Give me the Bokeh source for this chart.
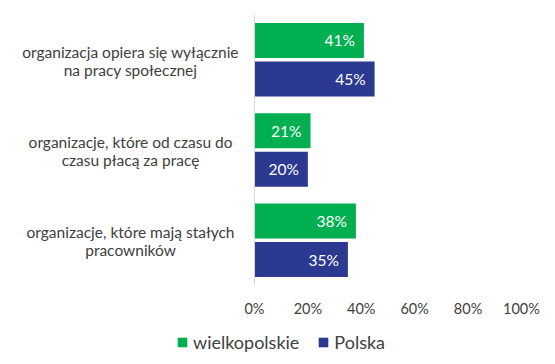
from bokeh.plotting import figure
from bokeh.layouts import column
from bokeh.models import (ColumnDataSource, FactorRange, Span, FixedTicker,
                          Legend, LegendItem, LabelSet, Range1d)
from bokeh.transform import dodge
from bokeh.core.properties import value
from bokeh.embed import file_html
from bokeh.resources import INLINE

categories = [
    "organizacja opiera się wyłącznie\nna pracy społecznej",
    "organizacje, które od czasu do\nczasu płacą za pracę",
    "organizacje, które mają stałych\npracowników",
]
wielkopolskie = [0.41, 0.21, 0.38]
polska = [0.45, 0.20, 0.35]
series_names = ["wielkopolskie", "Polska"]
tick_values = [0, 0.2, 0.4, 0.6, 0.8, 1.0]
tick_labels = ["0%", "20%", "40%", "60%", "80%", "100%"]

GREEN = "#00B050"
BLUE = "#2B3990"
TEXT = "#404040"
FONT = "Lato"

src = ColumnDataSource(dict(
    cat=categories,
    w=wielkopolskie,
    p=polska,
    wl=[f"{round(v*100)}%" for v in wielkopolskie],
    pl=[f"{round(v*100)}%" for v in polska],
    line1=[c.split("\n")[0] for c in categories],
    line2=[c.split("\n")[1] for c in categories],
    lx=[-0.464] * len(categories),
))

p = figure(width=550, height=322, output_backend="svg", toolbar_location=None,
           y_range=FactorRange(factors=categories[::-1], range_padding=0),
           x_range=(-0.951, 1.090),
           min_border_left=0, min_border_right=5, min_border_top=14,
           min_border_bottom=37)
p.outline_line_color = None
p.grid.visible = False
p.yaxis.visible = False

OFF = 0.213
rg = p.hbar(y=dodge("cat", OFF, range=p.y_range), right="w", left=0, height=0.387,
            source=src, fill_color=GREEN, line_color=None)
rb = p.hbar(y=dodge("cat", -OFF, range=p.y_range), right="p", left=0, height=0.387,
            source=src, fill_color=BLUE, line_color=None)

for col, lab, off in (("w", "wl", OFF), ("p", "pl", -OFF)):
    p.add_layout(LabelSet(x=col, y=dodge("cat", off, range=p.y_range), text=lab, source=src,
                          x_offset=-9, text_align="right", text_baseline="middle",
                          text_color="white", text_font=value(FONT),
                          text_font_size="15.5px"))

for field, yoff in (("line1", -8), ("line2", 10)):
    p.text(x="lx", y="cat", text=field, source=src, text_align="center",
           text_baseline="middle", text_color=TEXT, text_font=value(FONT),
           text_font_size="15.5px", y_offset=yoff)

p.add_layout(Span(location=0, dimension="height", line_color="#d9d9d9", line_width=1))

xa = p.xaxis[0]
xa.ticker = FixedTicker(ticks=tick_values)
xa.major_label_overrides = {v: l for v, l in zip(tick_values, tick_labels)}
xa.axis_line_color = None
xa.major_tick_line_color = None
xa.minor_tick_line_color = None
xa.major_label_standoff = 8
xa.major_label_text_font = FONT
xa.major_label_text_font_size = "14.5px"
xa.major_label_text_color = TEXT

# legend strip below the chart (proxy bars kept outside the visible range)
lf = figure(width=550, height=42, output_backend="svg", toolbar_location=None,
            x_range=Range1d(0, 1), y_range=Range1d(0, 1),
            min_border=0)
lf.outline_line_color = None
lf.grid.visible = False
lf.axis.visible = False
lg = lf.hbar(y=[-10] * len(wielkopolskie), right=wielkopolskie, left=0, height=0.5,
             fill_color=GREEN, line_color=None)
lb = lf.hbar(y=[-10] * len(polska), right=polska, left=0, height=0.5,
             fill_color=BLUE, line_color=None)
legend = Legend(items=[LegendItem(label=series_names[0], renderers=[lg]),
                       LegendItem(label=series_names[1], renderers=[lb])],
                orientation="horizontal", location=(176, 11),
                border_line_color=None, background_fill_alpha=0,
                label_text_font=FONT, label_text_font_size="18px",
                label_text_color=TEXT, glyph_width=12, glyph_height=12,
                spacing=18, label_standoff=5, padding=0, margin=0)
lf.add_layout(legend, "center")

layout = column(p, lf, spacing=0)
open("out.html", "w").write(file_html(layout, INLINE))
